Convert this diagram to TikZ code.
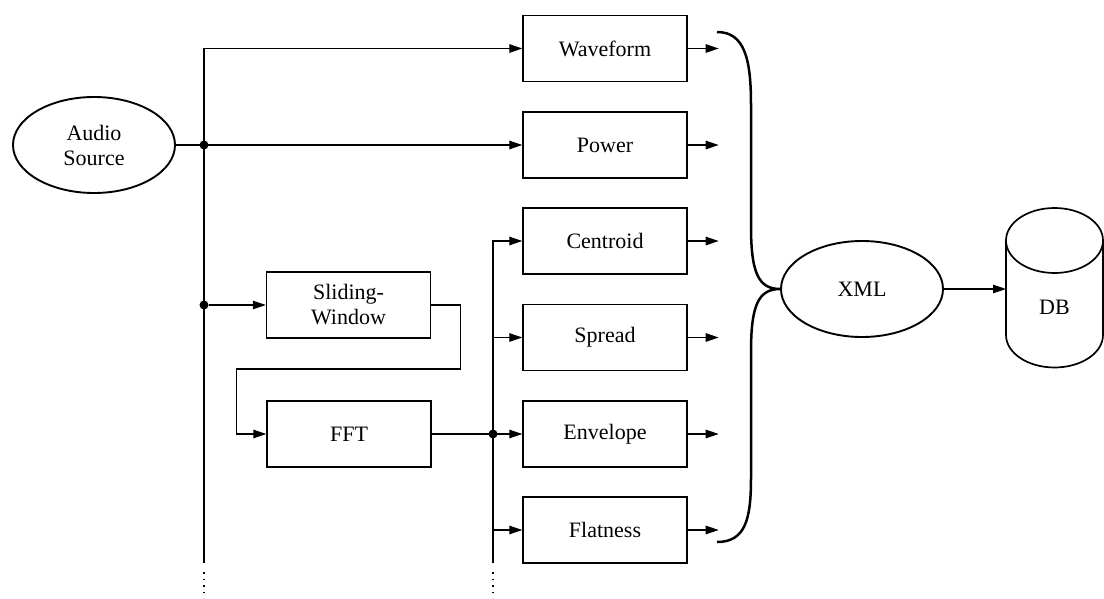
\documentclass[tikz,border=0pt]{standalone}
\usepackage{fontspec}
\setmainfont{Liberation Serif}
\usetikzlibrary{shapes.geometric,arrows.meta}
\begin{document}
\begin{tikzpicture}[x=1pt,y=-1pt,
  >={Triangle[length=13pt,width=8.5pt]},
  box/.style={draw, rectangle, minimum width=164pt, minimum height=66pt, inner sep=0pt, line width=1.4pt},
  oval/.style={draw, ellipse, minimum width=162pt, minimum height=96pt, inner sep=0pt, line width=1.9pt},
  conn/.style={->, line width=1.2pt},
  junction/.style={circle, fill, inner sep=0pt, minimum size=9pt},
  dotline/.style={line width=1.2pt, dash pattern=on 1.5pt off 5pt},
  font=\fontsize{22}{25}\selectfont]
\useasboundingbox (0,0) rectangle (1104,599);

% nodes
\node[oval, align=center] (audio) at (94,145) {Audio\\Source};
\node[box] (wave)   at (605,48.5) {Waveform};
\node[box] (power)  at (605,145)  {Power};
\node[box] (cent)   at (605,241)  {Centroid};
\node[box] (spread) at (605,337.5){Spread};
\node[box] (env)    at (605,434)  {Envelope};
\node[box] (flat)   at (605,530)  {Flatness};
\node[box, align=center] (slide) at (348.5,305) {Sliding-\\Window};
\node[box] (fft)    at (349,434)  {FFT};
\node[oval] (xml)   at (862,289)  {XML};
\node (db) at (1054.5,307) {DB};

% junctions
\node[junction] (j1) at (204,145) {};
\node[junction] (j2) at (204,305) {};
\node[junction] (j3) at (493,434) {};

% coordinates
\coordinate (ltb) at (204,563);
\coordinate (ltd) at (204,598);
\coordinate (mtb) at (493,563);
\coordinate (mtd) at (493,598);
\coordinate (k1) at (460.7,369);
\coordinate (k2) at (236.4,369);
\coordinate (bt) at (717,32);
\coordinate (bb) at (717,542);
\coordinate (dbin) at (1006,289);

% left trunk
\draw[conn] (ltb) |- (wave.west);
\draw[dotline] (204,572) -- (ltd);
\draw[conn] (audio.east) -- (power.west);
\draw[conn] (j2) -- (slide.west);
\draw[conn] (slide.east) -| (k1) -- (k2) |- (fft.west);

% middle trunk
\draw[conn] (fft.east) -- (env.west);
\draw[conn] (mtb) |- (cent.west);
\draw[dotline] (493,572) -- (mtd);
\draw[conn] (spread.west -| mtb) -- (spread.west);
\draw[conn] (flat.west -| mtb) -- (flat.west);

% output stubs
\foreach \n in {wave,power,cent,spread,env,flat}{
  \path (\n.east) ++(31,0) coordinate (\n-out);
  \draw[conn] (\n.east) -- (\n-out);
}

% brace
\draw[line width=2.5pt] (bt) .. controls (745,32) and (751,60) .. (751,105)
  -- (751,226) .. controls (751,272) and (758,289) .. (xml.west)
  .. controls (758,289) and (751,306) .. (751,352)
  -- (751,478) .. controls (751,520) and (745,542) .. (bb);

% XML -> DB
\draw[conn] (xml.east) -- (dbin);

% DB cylinder
\draw[line width=1.7pt] (1054.5,240.5) ellipse [x radius=48.5pt, y radius=32.5pt];
\draw[line width=1.7pt] (1006,240.5) -- (1006,335)
  arc[start angle=180, end angle=360, x radius=48.5pt, y radius=32.5pt] -- (1103,240.5);
\end{tikzpicture}
\end{document}
